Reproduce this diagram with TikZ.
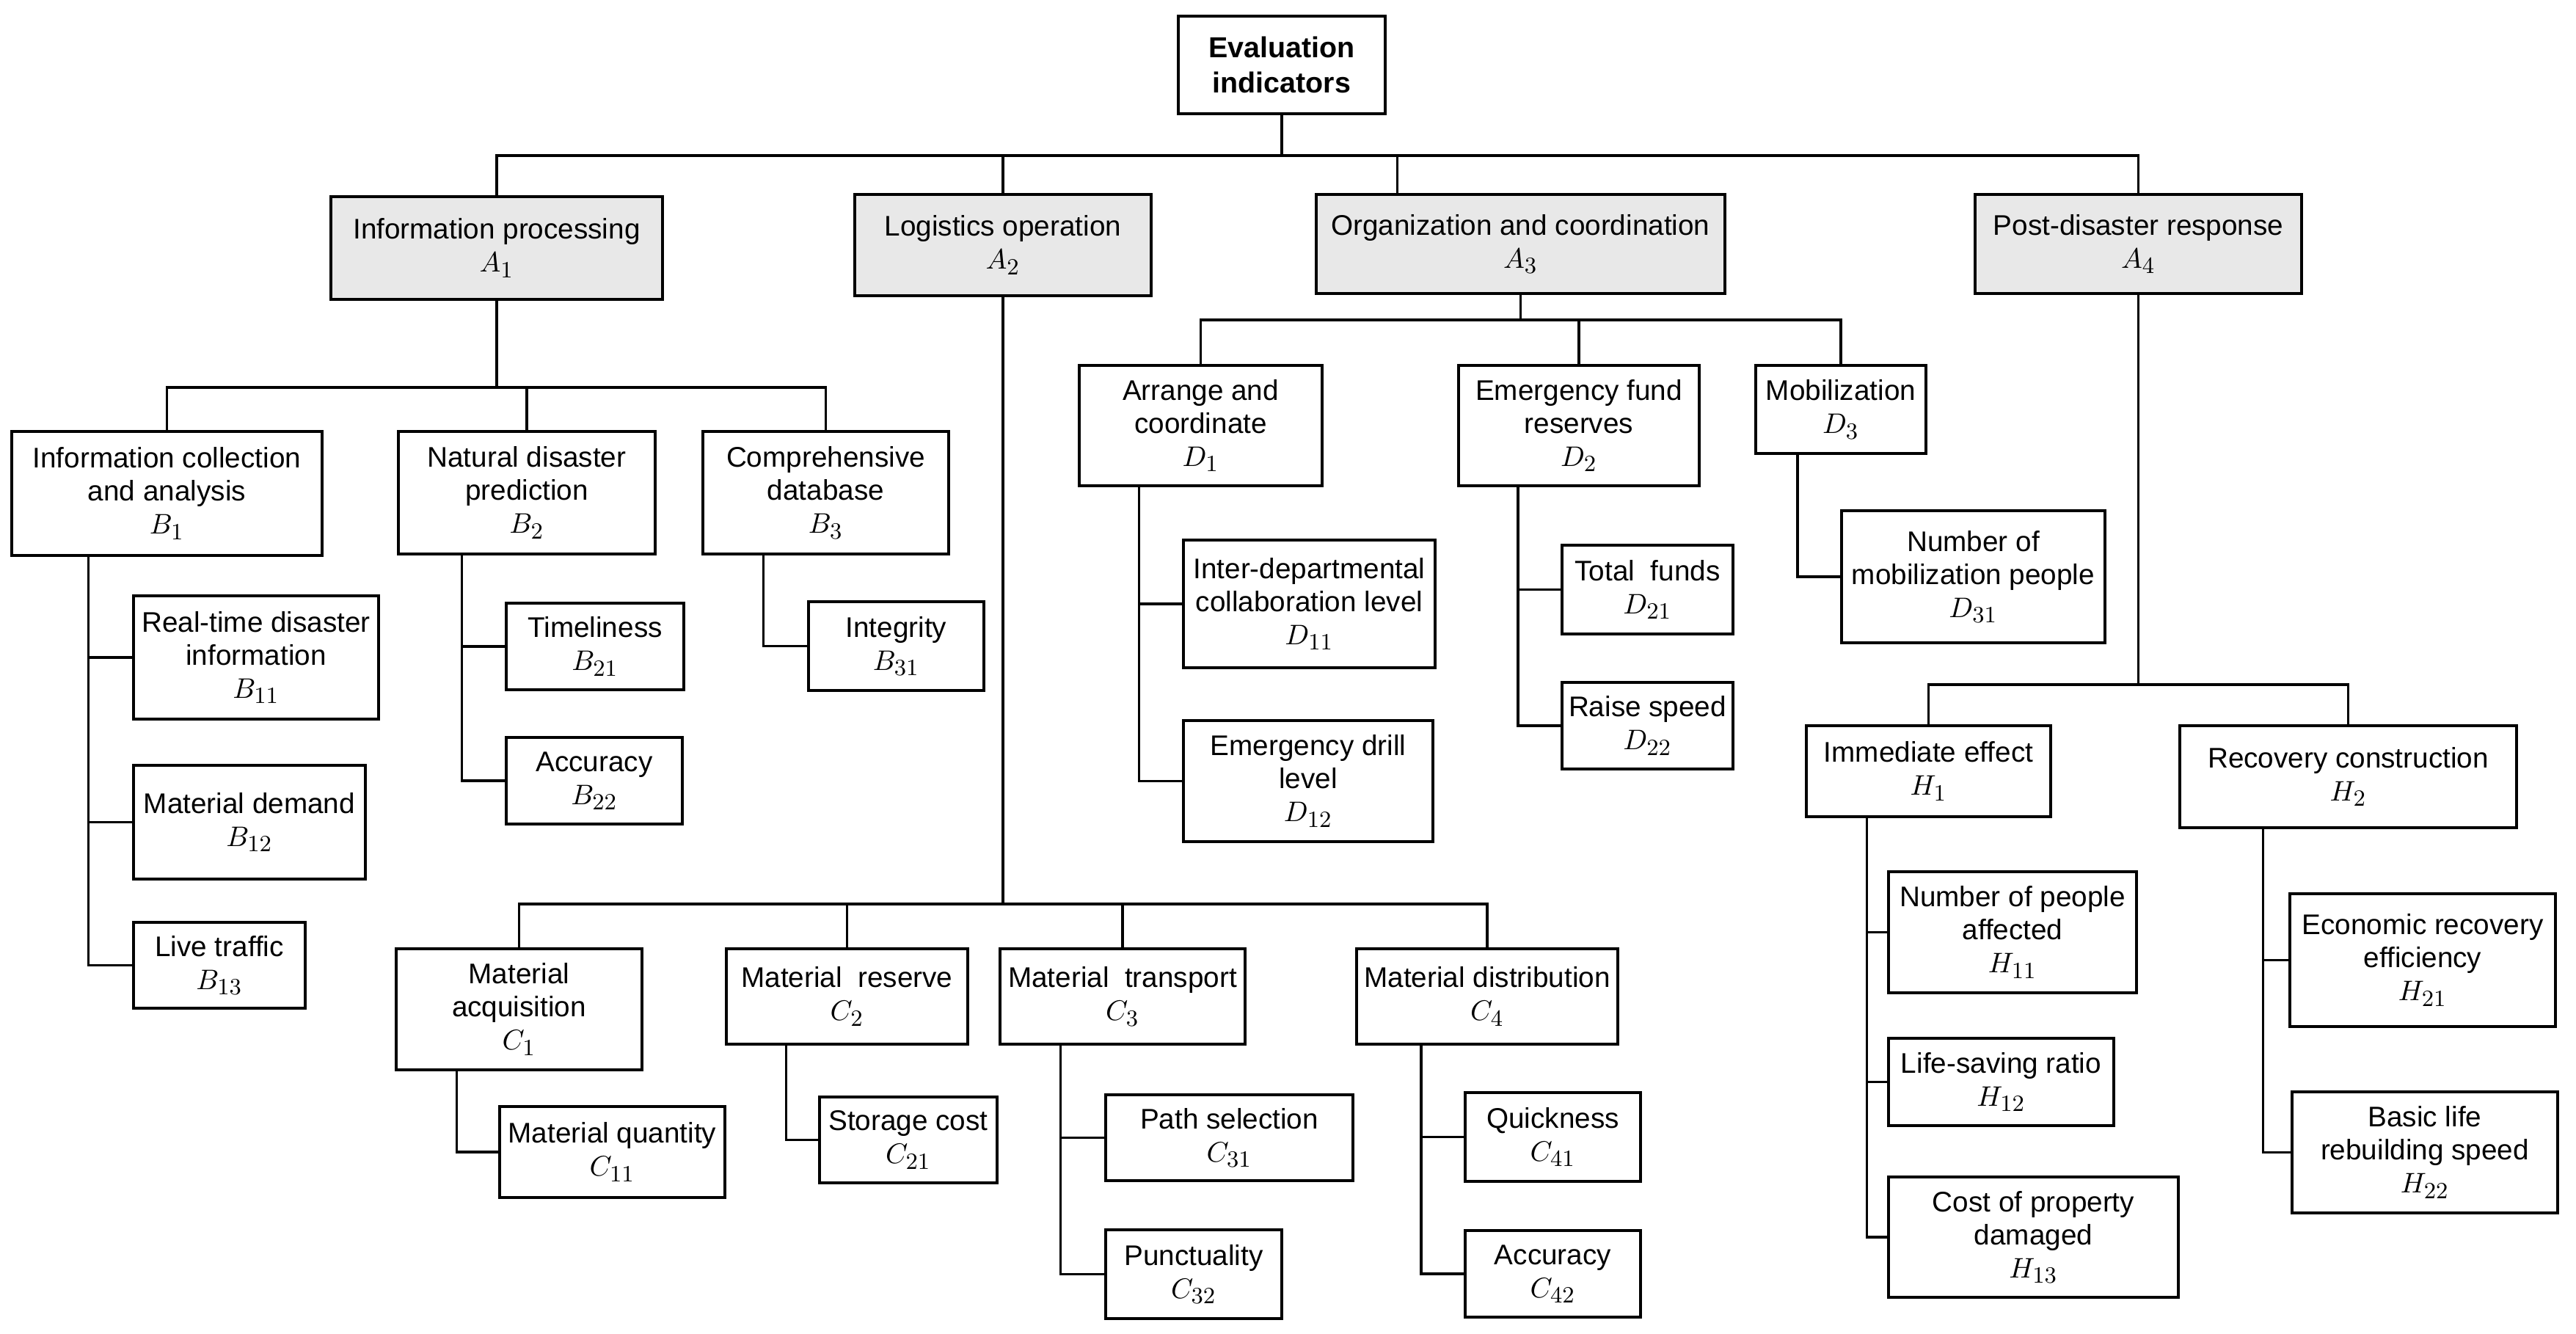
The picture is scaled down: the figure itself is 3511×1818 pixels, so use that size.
\documentclass[tikz,border=0pt]{standalone}
\usepackage{fontspec}
\setmainfont{Liberation Sans}
\DeclareMathSizes{11}{11}{9.5}{7}
\usetikzlibrary{calc}
\tikzset{
  box/.style={draw=black, line width=1.05pt, fill=white, align=center, inner sep=1pt,
    font=\fontsize{11}{12.8}\selectfont},
  catbox/.style={fill=black!9},
  rootbox/.style={font=\fontsize{11.2}{13.6}\selectfont\bfseries},
  ln/.style={draw=black, line width=0.9pt}
}
\newcommand\bx[7][]{\node[box,#1,minimum width={(#5-#3)*0.1mm},minimum height={(#6-#4)*0.1mm}] (#2) at ({(#3+#5)/2},{(#4+#6)/2}) {#7};}
\newcommand\subln[2]{\draw[ln] ($(#1.south west)!0.25!(#1.south east)$) |- (#2.west);}
\begin{document}
\begin{tikzpicture}[x=0.01cm,y=-0.01cm]
\useasboundingbox (0,0) rectangle (3511,1818);
% root and level A
\bx[rootbox]{root}{1606}{22}{1888}{155}{Evaluation\\indicators}
\bx[catbox]{A1}{451}{268}{903}{408}{Information processing\\$A_1$}
\bx[catbox]{A2}{1165}{265}{1569}{403}{Logistics operation\\$A_2$}
\bx[catbox]{A3}{1794}{265}{2351}{400}{Organization and coordination\\$A_3$}
\bx[catbox]{A4}{2692}{265}{3137}{400}{Post-disaster response\\$A_4$}
% B
\bx{B1}{16}{588}{439}{757}{Information collection\\and analysis\\$B_1$}
\bx{B2}{543}{588}{893}{755}{Natural disaster\\prediction\\$B_2$}
\bx{B3}{958}{588}{1293}{755}{Comprehensive\\database\\$B_3$}
\bx{B11}{182}{812}{516}{980}{Real-time disaster\\information\\$B_{11}$}
\bx{B12}{182}{1043}{498}{1198}{Material demand\\$B_{12}$}
\bx{B13}{182}{1257}{416}{1374}{Live traffic\\$B_{13}$}
\bx{B21}{690}{822}{932}{940}{Timeliness\\$B_{21}$}
\bx{B22}{690}{1005}{930}{1123}{Accuracy\\$B_{22}$}
\bx{B31}{1102}{820}{1341}{941}{Integrity\\$B_{31}$}
% C
\bx{C1}{540}{1293}{875}{1458}{Material\\acquisition\\$C_1$}
\bx{C2}{990}{1293}{1319}{1423}{Material~~reserve\\$C_2$}
\bx{C3}{1363}{1293}{1697}{1423}{Material~~transport\\$C_3$}
\bx{C4}{1849}{1293}{2205}{1423}{Material distribution\\$C_4$}
\bx{C11}{681}{1508}{988}{1632}{Material quantity\\$C_{11}$}
\bx{C21}{1117}{1495}{1359}{1612}{Storage cost\\$C_{21}$}
\bx{C31}{1507}{1492}{1844}{1609}{Path selection\\$C_{31}$}
\bx{C32}{1507}{1676}{1747}{1797}{Punctuality\\$C_{32}$}
\bx{C41}{1997}{1489}{2236}{1610}{Quickness\\$C_{41}$}
\bx{C42}{1997}{1677}{2236}{1795}{Accuracy\\$C_{42}$}
% D
\bx{D1}{1471}{498}{1802}{662}{Arrange and\\coordinate\\$D_1$}
\bx{D2}{1988}{498}{2316}{662}{Emergency fund\\reserves\\$D_2$}
\bx{D3}{2393}{498}{2625}{618}{Mobilization\\$D_3$}
\bx{D11}{1613}{736}{1956}{910}{Inter-departmental\\collaboration level\\$D_{11}$}
\bx{D12}{1613}{982}{1953}{1147}{Emergency drill\\level\\$D_{12}$}
\bx{D21}{2129}{743}{2362}{864}{Total~~funds\\$D_{21}$}
\bx{D22}{2129}{930}{2362}{1048}{Raise speed\\$D_{22}$}
\bx{D31}{2510}{696}{2869}{876}{Number of\\mobilization people\\$D_{31}$}
% H
\bx{H1}{2462}{989}{2795}{1113}{Immediate effect\\$H_1$}
\bx{H2}{2971}{989}{3430}{1128}{Recovery construction\\$H_2$}
\bx{H11}{2574}{1188}{2912}{1353}{Number of people\\affected\\$H_{11}$}
\bx{H12}{2574}{1415}{2881}{1534}{Life-saving ratio\\$H_{12}$}
\bx{H13}{2574}{1604}{2969}{1768}{Cost of property\\damaged\\$H_{13}$}
\bx{H21}{3121}{1218}{3483}{1399}{Economic recovery\\efficiency\\$H_{21}$}
\bx{H22}{3124}{1488}{3486}{1653}{Basic life\\rebuilding speed\\$H_{22}$}
% bus levels
\coordinate (busA) at (0,212);
\coordinate (busB) at (0,528);
\coordinate (busC) at (0,1232);
\coordinate (busD) at (0,436);
\coordinate (busH) at (0,933);
% root -> A
\draw[ln] (root.south) -- (root.south |- busA);
\draw[ln] (A1.north) |- (A4.north |- busA) -- (A4.north);
\draw[ln] (A2.north) -- (A2.north |- busA);
\coordinate (a3top) at ($(A3.north west)!0.2!(A3.north east)$);
\draw[ln] (a3top) -- (a3top |- busA);
% A1 -> B
\draw[ln] (A1.south) -- (A1.south |- busB);
\draw[ln] (B1.north) |- (B3.north |- busB) -- (B3.north);
\draw[ln] (B2.north) -- (B2.north |- busB);
% A2 -> C
\draw[ln] (A2.south) -- (A2.south |- busC);
\draw[ln] (C1.north) |- (C4.north |- busC) -- (C4.north);
\draw[ln] (C2.north) -- (C2.north |- busC);
\draw[ln] (C3.north) -- (C3.north |- busC);
% A3 -> D
\draw[ln] (A3.south) -- (A3.south |- busD);
\draw[ln] (D1.north) |- (D3.north |- busD) -- (D3.north);
\draw[ln] (D2.north) -- (D2.north |- busD);
% A4 -> H
\draw[ln] (A4.south) -- (A4.south |- busH);
\draw[ln] (H1.north) |- (H2.north |- busH) -- (H2.north);
% side children
\subln{B1}{B11}\subln{B1}{B12}\subln{B1}{B13}
\subln{B2}{B21}\subln{B2}{B22}
\subln{B3}{B31}
\subln{C1}{C11}
\subln{C2}{C21}
\subln{C3}{C31}\subln{C3}{C32}
\subln{C4}{C41}\subln{C4}{C42}
\subln{D1}{D11}\subln{D1}{D12}
\subln{D2}{D21}\subln{D2}{D22}
\subln{D3}{D31}
\subln{H1}{H11}\subln{H1}{H12}\subln{H1}{H13}
\subln{H2}{H21}\subln{H2}{H22}
\end{tikzpicture}
\end{document}
